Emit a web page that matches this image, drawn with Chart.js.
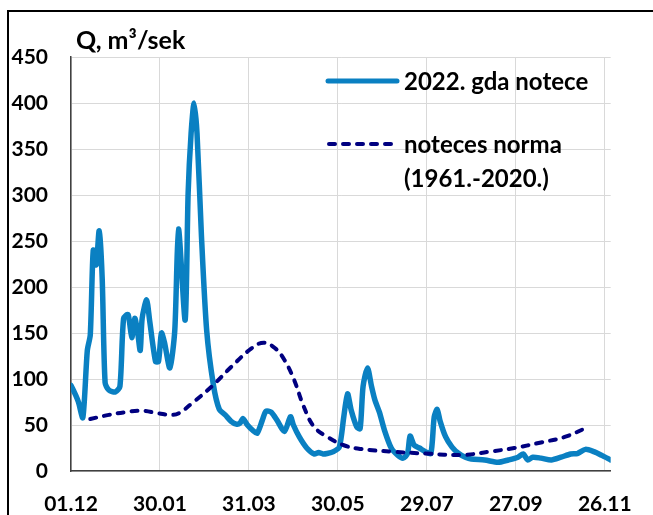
<!DOCTYPE html>
<html>
<head>
<meta charset="utf-8">
<script src="https://cdn.jsdelivr.net/npm/chart.js@4"></script>
<style>
    html, body { margin: 0; padding: 0; background: #fff; overflow: hidden; }
    #wrap { width: 653px; height: 515px; }
</style>
</head>
<body>
<div id="wrap"><canvas id="flowChart" width="653" height="515"></canvas></div>
<script>
// x axis: days counted from 01.12
const tickDays = [0, 60, 120, 180, 240, 300, 360];
const tickLabels = ['01.12', '30.01', '31.03', '30.05', '29.07', '27.09', '26.11'];

// 2022 discharge
const flowDays = [0, 3, 5, 8, 11, 13, 15, 17, 19, 21, 23, 25.5, 30, 33, 35.5, 38.5, 41, 43, 45, 46.7,
    48, 51, 53, 57, 59, 61, 63, 66.7, 70, 72.5, 77, 79, 81, 83, 85, 88, 91.5, 96, 100, 104,
    108, 111.5, 114, 116, 119, 122.7, 125.5, 129, 131.5, 135, 139, 144, 148, 150, 154, 159, 164, 167, 170, 172.7,
    177, 181, 184, 186.5, 189, 192.7, 195, 197, 200, 202.7, 205, 208, 211.5, 216, 220.5, 224, 227, 228.7, 231.5, 235,
    239, 242.7, 245, 247, 249, 252.7, 257, 261.5, 266, 270, 279, 288, 295, 301.5, 305, 308, 311.5, 317, 324, 330.5,
    337, 341.5, 347, 352.7, 358, 364];
const flowValues = [93, 83, 75, 58, 131, 148, 240, 224, 261, 211, 96, 88, 86, 92, 166, 170, 145, 166, 150, 131,
    166, 186, 164, 119, 119, 150, 140, 112, 153, 263, 164, 302, 367, 400, 367, 255, 153, 94, 67, 61,
    54, 51, 52, 57, 50, 44, 41, 55, 65, 64, 55, 43, 59, 50, 37, 25, 18.5, 20, 18.5, 19,
    21, 26, 59, 84, 66, 48, 46, 92, 112, 92, 77, 64, 44, 25, 17, 14, 19, 38, 28, 25,
    21, 19, 59, 67, 54, 37, 26, 19, 15, 13, 12, 9.5, 12, 15, 18.5, 12, 15, 14, 12, 15,
    18.5, 19, 23.5, 21, 17, 12];

// long-term norm 1961-2020
const normDays = [13, 25.5, 37, 48, 59, 68, 73, 81.5, 95, 108, 121.5, 130, 138, 144, 150.5, 157, 164, 174,
    184, 195, 217, 239, 264, 282, 299, 317, 333, 349];
const normValues = [56.5, 61, 64, 65.5, 62.7, 61, 63, 73.5, 92, 113, 133, 139.5, 133, 120.6, 99, 70, 48, 36,
    28, 24, 21, 19, 17.4, 21, 25, 31, 37, 48];

const seriesNames = ['2022. gda notece', ['noteces norma', '(1961.-2020.)']];
const yTitle = 'Q, m\u00b3/sek';

const blue = '#0a80c2';
const navy = '#000080';
const fontFamily = 'Lato, "Open Sans", sans-serif';

function pairs(xs, ys) {
    return xs.map((x, i) => ({ x: x, y: ys[i] }));
}

// outer frame, axis title and the legend drawn by hand
const decorPlugin = {
    id: 'decor',
    beforeDraw(chart) {
        const ctx = chart.ctx;
        ctx.save();
        ctx.fillStyle = '#fff';
        ctx.fillRect(0, 0, chart.width, chart.height);
        ctx.restore();
    },
    afterDraw(chart) {
        const ctx = chart.ctx;
        ctx.save();
        ctx.strokeStyle = '#000';
        ctx.lineWidth = 2;
        ctx.strokeRect(8, 11, 700, 600);

        ctx.fillStyle = '#000';
        ctx.textBaseline = 'middle';
        ctx.textAlign = 'left';
        ctx.font = 'bold 25px ' + fontFamily;
        ctx.fillText(yTitle, 76, 41);

        // legend
        ctx.font = 'bold 24px ' + fontFamily;
        ctx.lineWidth = 5;
        ctx.lineCap = 'round';
        ctx.strokeStyle = blue;
        ctx.beginPath();
        ctx.moveTo(328, 81);
        ctx.lineTo(397, 81);
        ctx.stroke();
        ctx.fillText(seriesNames[0], 404, 82);

        ctx.lineWidth = 4;
        ctx.strokeStyle = navy;
        ctx.setLineDash([6, 8]);
        ctx.beginPath();
        ctx.moveTo(329, 144);
        ctx.lineTo(396, 144);
        ctx.stroke();
        ctx.setLineDash([]);
        ctx.fillText(seriesNames[1][0], 404, 145);
        ctx.fillText(seriesNames[1][1], 404, 179);
        ctx.restore();
    }
};

new Chart(document.getElementById('flowChart').getContext('2d'), {
    type: 'line',
    data: {
        datasets: [{
            label: seriesNames[0],
            data: pairs(flowDays, flowValues),
            borderColor: blue,
            borderWidth: 5.5,
            pointRadius: 0,
            tension: 0.25,
            borderJoinStyle: 'round',
            borderCapStyle: 'round',
            order: 1
        }, {
            label: seriesNames[1].join(' '),
            data: pairs(normDays, normValues),
            borderColor: navy,
            borderWidth: 4,
            borderDash: [6, 8],
            borderCapStyle: 'round',
            pointRadius: 0,
            tension: 0.4,
            order: 0
        }]
    },
    options: {
        responsive: false,
        animation: false,
        layout: { padding: { left: 0, top: 57, right: 36, bottom: 0 } },
        plugins: {
            legend: { display: false },
            tooltip: { enabled: false }
        },
        scales: {
            x: {
                type: 'linear',
                min: 0,
                max: 364,
                afterBuildTicks: axis => {
                    axis.ticks = tickDays.map(v => ({ value: v }));
                },
                afterFit: axis => { axis.height = 44; },
                ticks: {
                    autoSkip: false,
                    maxRotation: 0,
                    padding: 21,
                    color: '#000',
                    font: { family: fontFamily, size: 21, weight: 'bold' },
                    callback: (value) => tickLabels[tickDays.indexOf(value)]
                },
                grid: { color: '#d9d9d9', lineWidth: 1, drawTicks: false },
                border: { color: '#404040', width: 1.5 }
            },
            y: {
                min: 0,
                max: 450,
                afterFit: axis => { axis.width = 71; },
                ticks: {
                    stepSize: 50,
                    padding: 23,
                    color: '#000',
                    font: { family: fontFamily, size: 21, weight: 'bold' }
                },
                grid: { color: '#d9d9d9', lineWidth: 1, drawTicks: false },
                border: { color: '#404040', width: 1.5 }
            }
        }
    },
    plugins: [decorPlugin]
});
</script>
</body>
</html>
